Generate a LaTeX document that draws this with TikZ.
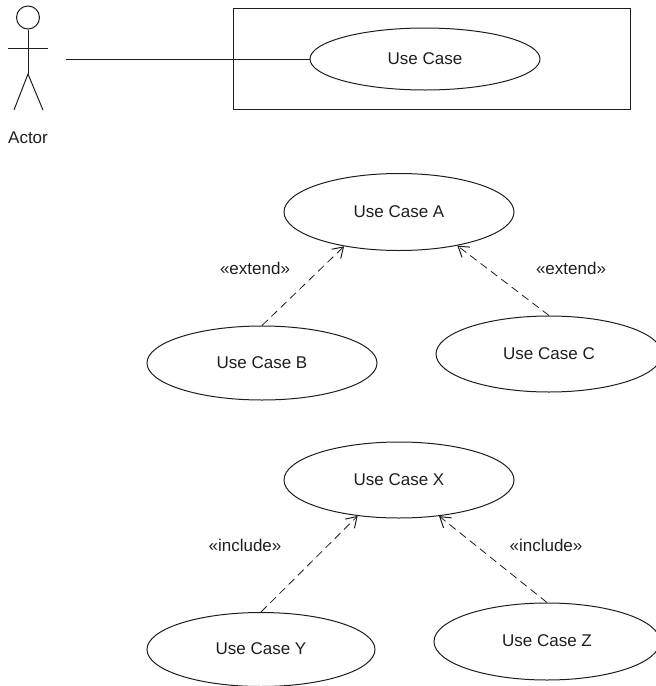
\documentclass[tikz,border=0pt]{standalone}
\usepackage{fontspec}
\setmainfont{Liberation Sans}
\usetikzlibrary{shapes.geometric,arrows.meta}
\definecolor{ink}{HTML}{1E1E1E}
\tikzset{
  uc/.style={draw=ink,ellipse,line width=1pt,minimum width=#1,inner sep=0pt,text=ink,text height=12.2pt,text depth=2pt,font=\fontsize{17}{19}\selectfont},
  uc/.default=230pt,
  lbl/.style={text=ink,inner sep=0pt,font=\fontsize{17}{19}\selectfont},
  line/.style={draw=ink,line width=1pt},
  dep/.style={draw=ink,line width=0.8pt,dash pattern=on 8pt off 5pt,-{Straight Barb[length=10pt,width=13pt,line width=1pt]}}
}
\begin{document}
\begin{tikzpicture}[x=1pt,y=-1pt]
\useasboundingbox (0,0) rectangle (656,686);
\clip (0,0) rectangle (656,686);
% actor
\node[line,circle,minimum size=23pt,inner sep=0pt,line width=1pt] (head) at (28,17.5) {};
\coordinate (hip) at (28,74);
\coordinate (armL) at (8,48.5);
\coordinate (armR) at (48,48.5);
\coordinate (footL) at (14,110);
\coordinate (footR) at (43,110);
\draw[line] (head.south) -- (hip);
\draw[line] (armL) -- (armR);
\draw[line] (footL) -- (hip) -- (footR);
\node[lbl] (actor) at (28,137.5) {Actor};
% system
\node[line,minimum width=397pt,minimum height=101pt,inner sep=0pt] (sys) at (431.5,58.5) {};
\node[uc,minimum height=62pt] (uc) at (425,59) {Use Case};
\coordinate (wire) at (66,59);
\draw[line] (wire) -- (uc.west);
% extend
\node[uc,minimum height=77pt] (a) at (399,212) {Use Case A};
\node[uc,minimum height=74pt] (b) at (262,363) {Use Case B};
\node[uc,minimum height=76pt,minimum width=226pt] (c) at (549,354) {Use Case C};
\draw[dep] (b.north) -- (a.212);
\draw[dep] (c.north) -- (a.-30);
\node[lbl] (e1) at (255,268.5) {«extend»};
\node[lbl] (e2) at (571,268.5) {«extend»};
% include
\node[uc,minimum height=76pt] (x) at (399,480) {Use Case X};
\node[uc,minimum height=74pt,minimum width=228pt] (y) at (261,649.5) {Use Case Y};
\node[uc,minimum height=77pt,minimum width=226pt] (z) at (547,641.5) {Use Case Z};
\draw[dep] (y.north) -- (x.221);
\draw[dep] (z.north) -- (x.-42);
\node[lbl] (i1) at (245,545) {«include»};
\node[lbl] (i2) at (546,545) {«include»};
\end{tikzpicture}
\end{document}
